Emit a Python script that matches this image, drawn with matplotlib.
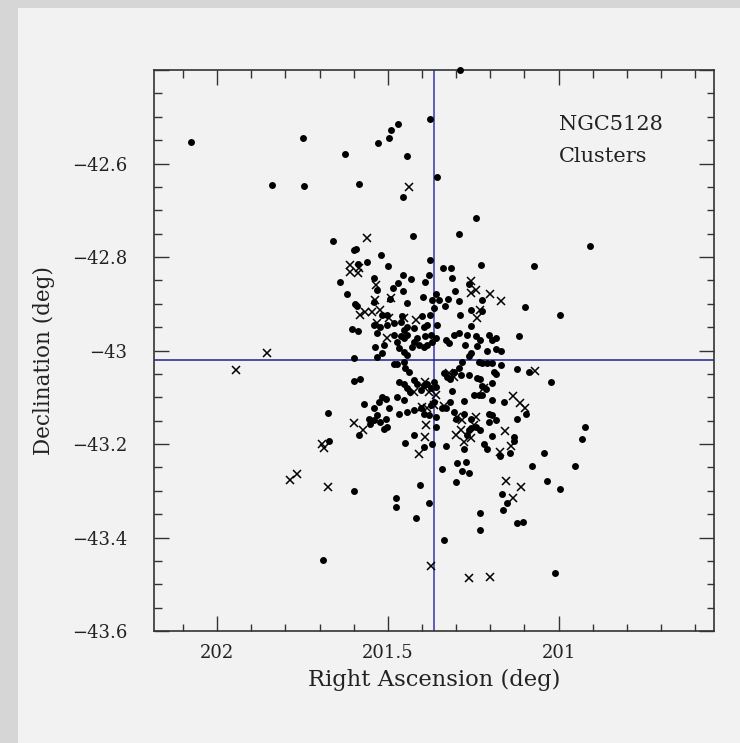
import matplotlib
matplotlib.use("Agg")
import matplotlib.pyplot as plt
from matplotlib.patches import Rectangle
from matplotlib.ticker import MultipleLocator, FuncFormatter

# Cluster positions (RA, Dec in degrees); filled dots and crosses
dot_points = [
    (202.078, -42.554), (201.749, -42.546), (201.840, -42.647), (201.745, -42.649),
    (201.625, -42.580), (201.586, -42.644), (201.528, -42.556), (201.497, -42.546),
    (201.492, -42.528), (201.470, -42.515), (201.443, -42.583), (201.377, -42.505),
    (201.356, -42.629), (201.457, -42.671), (201.426, -42.755), (201.661, -42.765),
    (201.598, -42.785), (201.594, -42.782), (201.519, -42.795), (201.587, -42.814),
    (201.561, -42.811), (201.499, -42.819), (201.376, -42.806), (201.639, -42.853),
    (201.620, -42.880), (201.289, -42.401), (201.242, -42.717), (201.292, -42.750),
    (200.907, -42.776), (201.073, -42.819), (201.379, -42.839), (201.338, -42.824),
    (201.315, -42.824), (201.312, -42.844), (201.226, -42.818), (201.098, -42.907),
    (200.995, -42.925), (201.116, -42.968), (201.086, -43.047), (201.122, -43.039),
    (201.023, -43.068), (201.096, -43.135), (201.121, -43.147), (200.924, -43.164),
    (200.931, -43.190), (201.159, -43.111), (201.131, -43.185), (201.131, -43.193),
    (201.171, -43.226), (201.142, -43.219), (201.044, -43.219), (201.077, -43.247),
    (200.953, -43.247), (201.033, -43.279), (200.995, -43.296), (201.166, -43.306),
    (201.152, -43.326), (201.162, -43.341), (201.230, -43.348), (201.230, -43.384),
    (201.121, -43.370), (201.104, -43.366), (201.337, -43.405), (201.011, -43.475),
    (201.600, -43.300), (201.475, -43.316), (201.475, -43.335), (201.419, -43.358),
    (201.407, -43.287), (201.381, -43.327), (201.689, -43.448), (201.674, -43.133),
    (201.584, -43.180), (201.571, -43.114), (201.673, -43.194), (201.598, -43.017),
    (201.598, -43.065), (201.583, -43.060), (201.605, -42.955), (201.588, -42.959),
    (201.424, -43.181), (201.451, -43.198), (201.395, -43.206), (201.372, -43.199),
    (201.302, -43.282),
    # north-east lobe
    (201.540, -42.844), (201.532, -42.870), (201.470, -42.855), (201.485, -42.866),
    (201.456, -42.839), (201.432, -42.848), (201.392, -42.854), (201.457, -42.872),
    (201.397, -42.885), (201.542, -42.896), (201.493, -42.889), (201.444, -42.899),
    (201.372, -42.893), (201.358, -42.880), (201.351, -42.893), (201.596, -42.900),
    (201.591, -42.905), (201.517, -42.923), (201.503, -42.923), (201.458, -42.927),
    (201.378, -42.923), (201.365, -42.909), (201.400, -42.927), (201.542, -42.945),
    (201.522, -42.949), (201.503, -42.945), (201.483, -42.942), (201.463, -42.938),
    (201.453, -42.956), (201.444, -42.949), (201.424, -42.952), (201.395, -42.949),
    (201.385, -42.945), (201.355, -42.945), (201.532, -42.963), (201.483, -42.967),
    (201.463, -42.970), (201.453, -42.974), (201.444, -42.967), (201.414, -42.974),
    (201.390, -42.970), (201.424, -42.981), (201.375, -42.967), (201.360, -42.974),
    (201.370, -42.981), (201.385, -42.988), (201.537, -42.992), (201.512, -42.988),
    (201.473, -42.981), (201.468, -42.995), (201.453, -43.003), (201.444, -43.010),
    (201.429, -42.992), (201.409, -42.988), (201.395, -42.992), (201.532, -43.013),
    (201.517, -43.006), (201.473, -43.028), (201.453, -43.024), (201.449, -43.038),
    (201.439, -43.046), (201.483, -43.028),
    # north-west side
    (201.263, -42.857), (201.304, -42.872), (201.225, -42.893), (201.291, -42.895),
    (201.325, -42.889), (201.334, -42.905), (201.256, -42.913), (201.224, -42.916),
    (201.289, -42.925), (201.307, -42.966), (201.292, -42.963), (201.258, -42.948),
    (201.268, -42.966), (201.243, -42.970), (201.229, -42.977), (201.204, -42.966),
    (201.194, -42.977), (201.184, -42.973), (201.331, -42.977), (201.322, -42.984),
    (201.273, -42.988), (201.238, -42.991), (201.258, -43.006), (201.263, -43.011),
    (201.209, -43.001), (201.184, -42.996), (201.170, -43.001),
    # south-east side
    (201.468, -43.067), (201.453, -43.071), (201.444, -43.081), (201.434, -43.089),
    (201.424, -43.063), (201.414, -43.071), (201.404, -43.085), (201.395, -43.074),
    (201.385, -43.071), (201.375, -43.081), (201.365, -43.067), (201.360, -43.078),
    (201.542, -43.124), (201.527, -43.110), (201.517, -43.099), (201.507, -43.103),
    (201.532, -43.138), (201.498, -43.124), (201.507, -43.146), (201.522, -43.153),
    (201.473, -43.099), (201.453, -43.106), (201.468, -43.135), (201.444, -43.132),
    (201.424, -43.128), (201.404, -43.124), (201.395, -43.135), (201.375, -43.117),
    (201.365, -43.110), (201.380, -43.139), (201.360, -43.142), (201.542, -43.149),
    (201.556, -43.146), (201.552, -43.157), (201.512, -43.167), (201.503, -43.164),
    (201.360, -43.164),
    # south-west lobe
    (201.282, -43.024), (201.233, -43.024), (201.224, -43.026), (201.209, -43.026),
    (201.194, -43.026), (201.170, -43.031), (201.336, -43.049), (201.307, -43.045),
    (201.327, -43.056), (201.317, -43.060), (201.292, -43.038), (201.287, -43.052),
    (201.263, -43.052), (201.238, -43.058), (201.189, -43.045), (201.184, -43.051),
    (201.229, -43.061), (201.224, -43.077), (201.214, -43.082), (201.194, -43.070),
    (201.248, -43.095), (201.233, -43.095), (201.224, -43.095), (201.312, -43.087),
    (201.317, -43.110), (201.278, -43.108), (201.341, -43.124), (201.331, -43.123),
    (201.307, -43.131), (201.302, -43.146), (201.278, -43.135), (201.258, -43.146),
    (201.204, -43.135), (201.194, -43.138), (201.194, -43.105), (201.204, -43.153),
    (201.184, -43.149), (201.243, -43.163), (201.258, -43.166), (201.263, -43.171),
    (201.268, -43.181), (201.278, -43.210), (201.219, -43.199), (201.209, -43.210),
    (201.229, -43.171), (201.331, -43.204), (201.196, -43.183), (201.341, -43.253),
    (201.299, -43.240), (201.270, -43.239), (201.282, -43.257), (201.263, -43.262),
]

cross_points = [
    (201.437, -42.651), (201.561, -42.760), (201.610, -42.817), (201.586, -42.824),
    (201.612, -42.832), (201.589, -42.834), (201.070, -43.043), (201.134, -43.098),
    (201.113, -43.113), (201.098, -43.123), (201.156, -43.173), (201.139, -43.204),
    (201.171, -43.218), (201.154, -43.279), (201.111, -43.293), (201.134, -43.316),
    (201.375, -43.460), (201.263, -43.487), (201.200, -43.485), (201.675, -43.291),
    (201.854, -43.005), (201.944, -43.042), (201.598, -43.155), (201.573, -43.169),
    (201.692, -43.199), (201.688, -43.209), (201.788, -43.277), (201.766, -43.265),
    (201.392, -43.184), (201.408, -43.221), (201.388, -43.160), (201.365, -43.117),
    (201.535, -42.860), (201.538, -42.891), (201.491, -42.887), (201.583, -42.925),
    (201.566, -42.918), (201.547, -42.918), (201.522, -42.913), (201.498, -42.930),
    (201.454, -42.930), (201.417, -42.934), (201.258, -42.852), (201.243, -42.870),
    (201.258, -42.876), (201.202, -42.879), (201.170, -42.895), (201.230, -42.913),
    (201.240, -42.931), (201.532, -42.941), (201.503, -42.974), (201.424, -43.089),
    (201.390, -43.067), (201.380, -43.089), (201.360, -43.096), (201.400, -43.120),
    (201.385, -43.124), (201.307, -43.056), (201.322, -43.049), (201.219, -43.080),
    (201.336, -43.118), (201.297, -43.142), (201.243, -43.142), (201.282, -43.149),
    (201.248, -43.160), (201.287, -43.171), (201.258, -43.188), (201.302, -43.181),
    (201.278, -43.196),
]

# Galaxy centre
ra0 = 201.365
dec0 = -43.02

ra_limits = (202.185, 200.545)
dec_limits = (-43.6, -42.4)

dot_ra, dot_dec = zip(*dot_points)
cross_ra, cross_dec = zip(*cross_points)

fig = plt.figure(figsize=(7.40, 7.43), dpi=100, facecolor="#d6d6d6")
fig.patches.append(Rectangle((18 / 740, 0), 722 / 740, 735 / 743,
                             transform=fig.transFigure, facecolor="#f2f2f2",
                             edgecolor="none", zorder=-10))

ax = fig.add_axes([154 / 740, 112 / 743, 560 / 740, 561 / 743])
ax.set_facecolor("#f2f2f2")
ax.set_zorder(1)

serif = "DejaVu Serif"
ink = "#222222"

ax.axvline(ra0, color="#3636a8", lw=1.1, zorder=1)
ax.axhline(dec0, color="#22228e", lw=1.1, zorder=1)

ax.plot(dot_ra, dot_dec, "o", ms=5.0, color="black", mec="black", mew=0,
        zorder=3, clip_on=False)
ax.plot(cross_ra, cross_dec, "x", ms=5.4, color="black", mew=1.1, zorder=3)

ax.set_xlim(*ra_limits)
ax.set_ylim(*dec_limits)

ax.xaxis.set_major_locator(MultipleLocator(0.5))
ax.xaxis.set_minor_locator(MultipleLocator(0.1))
ax.yaxis.set_major_locator(MultipleLocator(0.2))
ax.yaxis.set_minor_locator(MultipleLocator(0.05))


def fmt(v, pos):
    s = f"{v:.1f}"
    if s.endswith(".0"):
        s = s[:-2]
    return s.replace("-", "\u2212")


def fmt_dec(v, pos):
    # the top edge carries no label
    if v > dec_limits[1] - 0.01:
        return ""
    return fmt(v, pos)


ax.xaxis.set_major_formatter(FuncFormatter(fmt))
ax.yaxis.set_major_formatter(FuncFormatter(fmt_dec))

ax.tick_params(which="both", direction="in", top=True, right=True,
               color="#333333", width=1.0)
ax.tick_params(which="major", length=10.8)
ax.tick_params(which="minor", length=5.4)
ax.tick_params(axis="x", which="major", pad=9, labelsize=13, labelcolor=ink)
ax.tick_params(axis="y", which="major", pad=19, labelsize=13, labelcolor=ink)
for lab in ax.get_xticklabels() + ax.get_yticklabels():
    lab.set_fontfamily(serif)

for sp in ax.spines.values():
    sp.set_linewidth(1.2)
    sp.set_color("#333333")

ax.set_xlabel("Right Ascension (deg)", fontsize=16.3, family=serif, color=ink)
ax.xaxis.set_label_coords(0.5, -0.0873)
ax.xaxis.label.set_va("center")
ax.set_ylabel("Declination (deg)", fontsize=15.5, family=serif, color=ink)
ax.yaxis.set_label_coords(-0.196, 0.483)
ax.yaxis.label.set_va("center")

ax.text(0.723, 0.902, "NGC5128", transform=ax.transAxes, fontsize=15,
        family=serif, color=ink, ha="left", va="center")
ax.text(0.723, 0.845, "Clusters", transform=ax.transAxes, fontsize=15,
        family=serif, color=ink, ha="left", va="center")

fig.savefig("out.png", dpi=100, facecolor=fig.get_facecolor())
